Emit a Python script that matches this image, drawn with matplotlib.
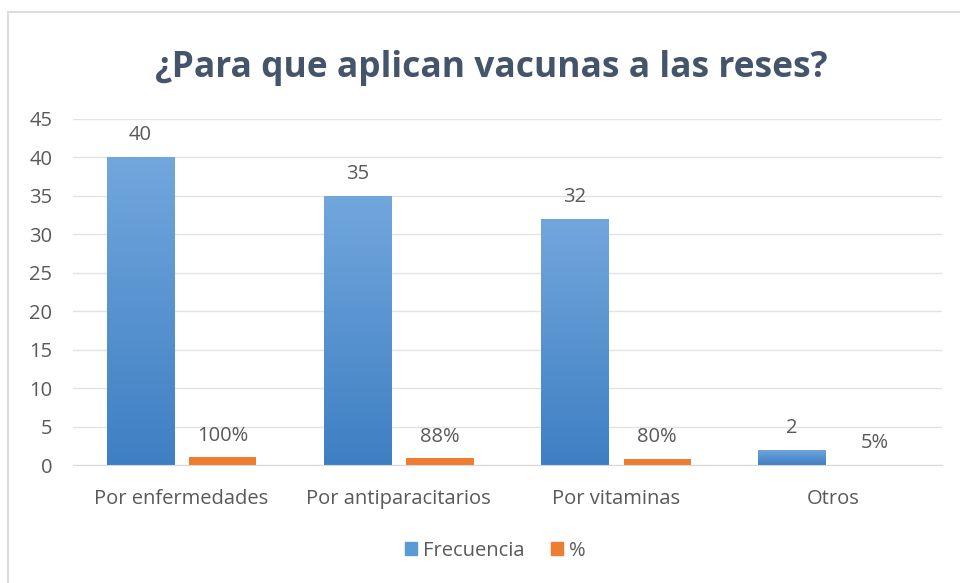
import matplotlib
matplotlib.use("Agg")
import matplotlib.pyplot as plt
import numpy as np
from matplotlib.colors import LinearSegmentedColormap
from matplotlib.patches import Rectangle

categories = ['Por enfermedades', 'Por antiparacitarios', 'Por vitaminas', 'Otros']
frecuencia = [40, 35, 32, 2]
porcentaje = [1.00, 0.88, 0.80, 0.05]
pct_labels = ['100%', '88%', '80%', '5%']

text_col = '#595959'
title_col = '#44546A'
blue_top = '#72A7DD'
blue_bot = '#3E7FC3'
orange = '#ED7D31'

plt.rcParams['font.family'] = ['Open Sans', 'DejaVu Sans']

fig = plt.figure(figsize=(9.6, 5.83), dpi=100)
ax = fig.add_axes([0.076, 0.2024, 0.905, 0.5943])

x = np.arange(len(categories))
w = 0.31
off = 0.19

bars_b = ax.bar(x - off, frecuencia, w, color=blue_bot, label='Frecuencia', zorder=2)
bars_o = ax.bar(x + off, porcentaje, w, color=orange, label='%', zorder=2)

# vertical gradient on the blue bars
cmap = LinearSegmentedColormap.from_list('b', [blue_bot, blue_top])
grad = np.linspace(0, 1, 256).reshape(-1, 1)
for b in bars_b:
    x0, y0 = b.get_x(), b.get_y()
    h = b.get_height()
    im = ax.imshow(grad, cmap=cmap, origin='lower', aspect='auto',
                   extent=[x0, x0 + b.get_width(), y0, y0 + h], zorder=2.5)
    im.set_clip_path(b)

for xi, v in zip(x, frecuencia):
    ax.text(xi - off, v + 1.5, str(v), ha='center', va='bottom', color=text_col, fontsize=14.5)
for xi, v, lab in zip(x, porcentaje, pct_labels):
    ax.text(xi + off, v + 1.5, lab, ha='center', va='bottom', color=text_col, fontsize=14.5)

ax.set_xlim(-0.5, len(categories) - 0.5)
ax.set_ylim(0, 45)
ax.set_yticks(range(0, 46, 5))
ax.set_xticks(x)
ax.set_xticklabels(categories)
ax.tick_params(axis='both', length=0, colors=text_col, labelsize=14.5)
ax.tick_params(axis='y', pad=15)
ax.tick_params(axis='x', pad=17)
ax.grid(axis='y', color='#E3E3E3', linewidth=1, zorder=0)
for s in ['top', 'right', 'left']:
    ax.spines[s].set_visible(False)
ax.spines['bottom'].set_color('#D9D9D9')

fig.text(0.512, 0.884, '¿Para que aplican vacunas a las reses?', ha='center', va='center',
         fontsize=25.5, fontweight='bold', color=title_col)

leg = fig.legend(handles=[Rectangle((0, 0), 1, 1, color='#5B9BD5'), Rectangle((0, 0), 1, 1, color=orange)],
                 labels=['Frecuencia', '%'], loc='center', bbox_to_anchor=(0.516, 0.055),
                 ncol=2, frameon=False, fontsize=14.5, handlelength=0.6, handleheight=0.6,
                 columnspacing=1.3, handletextpad=0.3)
for t in leg.get_texts():
    t.set_color(text_col)

# outer chart frame (partly visible)
fig.add_artist(Rectangle((8 / 960, -0.05), 1.2, 1 - 12 / 583 + 0.05, transform=fig.transFigure,
                         fill=False, edgecolor='#DADCE0', linewidth=1.5))

fig.savefig('out.png', dpi=100)
